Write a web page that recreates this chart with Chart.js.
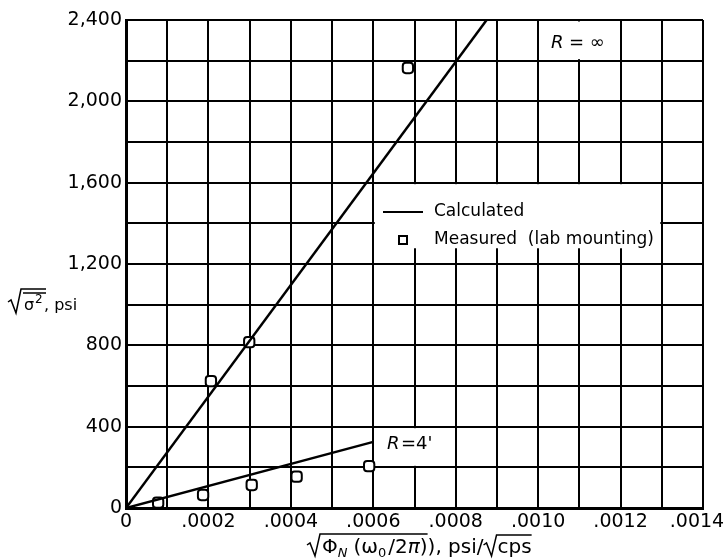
<!DOCTYPE html>
<html>
<head>
<meta charset="utf-8">
<script src="https://cdn.jsdelivr.net/npm/chart.js@4.4.1/dist/chart.umd.min.js"></script>
<style>
  html, body { margin: 0; padding: 0; background: #fff; }
  #wrap { width: 724px; height: 560px; }
</style>
</head>
<body>
<div id="wrap"><canvas id="chart" width="724" height="560"></canvas></div>
<script>
'use strict';

// grid / tick values
var xGrid = [0, 0.0001, 0.0002, 0.0003, 0.0004, 0.0005, 0.0006, 0.0007, 0.0008, 0.0009, 0.0010, 0.0011, 0.0012, 0.0013, 0.0014];
var xTickLabels = ['0', '', '.0002', '', '.0004', '', '.0006', '', '.0008', '', '.0010', '', '.0012', '', '.0014  '];
var yGrid = [0, 200, 400, 600, 800, 1000, 1200, 1400, 1600, 1800, 2000, 2200, 2400];
var yTickLabels = ['0', '', '400', '', '800', '', '1,200', '', '1,600', '', '2,000', '', '2,400'];

// calculated lines
var calcInfX = [0, 0.000875];
var calcInfY = [0, 2400];
var calc4X = [0, 0.0006];
var calc4Y = [0, 325];

// measured (lab mounting)
var measX = [0.000078, 0.000187, 0.000206, 0.000299, 0.000305, 0.000414, 0.00059, 0.000684];
var measY = [26, 64, 624, 816, 113, 154, 206, 2164];

function pts(xs, ys) {
  return xs.map(function (x, i) { return { x: x, y: ys[i] }; });
}

var FONT = '"DejaVu Sans", sans-serif';

function sqrtSign(c, x, yTop, yBase, len) {
  c.beginPath();
  c.moveTo(x, yBase - 8);
  c.lineTo(x + 3, yBase - 10);
  c.lineTo(x + 8, yBase + 3);
  c.lineTo(x + 13, yTop);
  c.lineTo(x + 13 + len, yTop);
  c.stroke();
}

// white boxes behind the labels, then the label text
var notes = {
  id: 'notes',
  beforeDatasetsDraw: function (chart) {
    var c = chart.ctx, xs = chart.scales.x, ys = chart.scales.y;
    function box(x0, x1, y0, y1) {
      var l = xs.getPixelForValue(x0) + 1.5, r = xs.getPixelForValue(x1) - 1.5;
      var t = ys.getPixelForValue(y1) + 1.5, b = ys.getPixelForValue(y0) - 1.5;
      c.fillStyle = '#fff';
      c.fillRect(l, t, r - l, b - t);
    }
    c.save();
    box(0.0010, 0.0012, 2200, 2400);
    box(0.0006, 0.0008, 200, 400);
    box(0.0006, 0.0013, 1270, 1600);
    c.restore();
  },
  afterDatasetsDraw: function (chart) {
    var c = chart.ctx;
    c.save();
    c.fillStyle = '#000';
    c.strokeStyle = '#000';
    c.textBaseline = 'middle';

    // R = inf
    c.font = 'italic 18px ' + FONT;
    c.fillText('R', 551, 43);
    c.font = '18px ' + FONT;
    c.fillText('= \u221E', 569, 43);

    // R = 4'
    c.font = 'italic 18px ' + FONT;
    c.fillText('R', 387, 444);
    c.font = '18px ' + FONT;
    c.fillText("=4'", 401, 444);

    // legend
    c.lineWidth = 2;
    c.beginPath();
    c.moveTo(383, 212);
    c.lineTo(423, 212);
    c.stroke();
    c.fillStyle = '#fff';
    c.fillRect(399, 236, 8, 8);
    c.strokeRect(399, 236, 8, 8);
    c.fillStyle = '#000';
    c.font = '17px ' + FONT;
    c.fillText('Calculated', 434, 212);
    c.fillText('Measured  (lab mounting)', 434, 240);

    // y title
    c.lineWidth = 1.5;
    c.textBaseline = 'alphabetic';
    sqrtSign(c, 8, 289, 310, 25);
    c.beginPath();
    c.moveTo(23, 293);
    c.lineTo(46, 293);
    c.stroke();
    c.font = '16px ' + FONT;
    c.fillText('\u03C3', 24, 310);
    c.font = '12px ' + FONT;
    c.fillText('2', 35, 303);
    c.font = '16px ' + FONT;
    c.fillText(', psi', 44, 310);

    // x title
    var bx = 553, x = 322;
    c.font = '20px ' + FONT;
    c.fillText('\u03A6', x, bx); x += c.measureText('\u03A6').width;
    c.font = 'italic 13px ' + FONT;
    c.fillText('N', x, bx + 4); x += c.measureText('N').width + 6;
    c.font = '20px ' + FONT;
    c.fillText('(\u03C9', x, bx); x += c.measureText('(\u03C9').width;
    c.font = '13px ' + FONT;
    c.fillText('0', x, bx + 4); x += c.measureText('0').width + 2;
    c.font = '20px ' + FONT;
    c.fillText('/2', x, bx); x += c.measureText('/2').width;
    c.font = 'italic 20px ' + FONT;
    c.fillText('\u03C0', x, bx); x += c.measureText('\u03C0').width;
    c.font = '20px ' + FONT;
    c.fillText(')', x, bx); x += c.measureText(')').width;
    sqrtSign(c, 307, 534, bx, x - 320);
    c.fillText('), psi/', x, bx); x += c.measureText('), psi/').width;
    var s = x;
    x += 14;
    c.fillText('cps', x, bx); x += c.measureText('cps').width;
    sqrtSign(c, s, 535, bx, x - s - 13);
    c.restore();
  }
};

var ctx = document.getElementById('chart').getContext('2d');
var chart = new Chart(ctx, {
  type: 'scatter',
  data: {
    datasets: [{
      label: 'Calculated R=inf',
      type: 'line',
      data: pts(calcInfX, calcInfY),
      borderColor: '#000',
      borderWidth: 2.5,
      pointRadius: 0,
      fill: false
    }, {
      label: "Calculated R=4'",
      type: 'line',
      data: pts(calc4X, calc4Y),
      borderColor: '#000',
      borderWidth: 2.5,
      pointRadius: 0,
      fill: false
    }, {
      label: 'Measured (lab mounting)',
      data: pts(measX, measY),
      pointStyle: 'rectRounded',
      pointRadius: 6,
      borderColor: '#000',
      backgroundColor: '#fff',
      borderWidth: 2
    }]
  },
  options: {
    responsive: false,
    animation: false,
    layout: { padding: { top: 20, right: 21, left: 0, bottom: 0 } },
    plugins: { legend: { display: false }, tooltip: { enabled: false } },
    scales: {
      x: {
        type: 'linear',
        min: 0,
        max: 0.0014,
        afterBuildTicks: function (s) { s.ticks = xGrid.map(function (v) { return { value: v }; }); },
        afterFit: function (s) { s.height = 52; s.paddingRight = 0; s.paddingLeft = 0; },
        grid: { color: '#000', lineWidth: 2, drawTicks: false },
        border: { color: '#000', width: 3 },
        ticks: {
          color: '#000',
          font: { family: FONT, size: 19 },
          padding: 3,
          maxRotation: 0,
          autoSkip: false,
          callback: function (v, i) { return xTickLabels[i]; }
        }
      },
      y: {
        min: 0,
        max: 2400,
        afterBuildTicks: function (s) { s.ticks = yGrid.map(function (v) { return { value: v }; }); },
        afterFit: function (s) { s.width = 126; s.paddingTop = 0; s.paddingBottom = 0; },
        grid: { color: '#000', lineWidth: 2, drawTicks: false },
        border: { color: '#000', width: 3 },
        ticks: {
          color: '#000',
          font: { family: FONT, size: 19 },
          padding: 4,
          autoSkip: false,
          callback: function (v, i) { return yTickLabels[i]; }
        }
      }
    }
  },
  plugins: [notes]
});
</script>
</body>
</html>
